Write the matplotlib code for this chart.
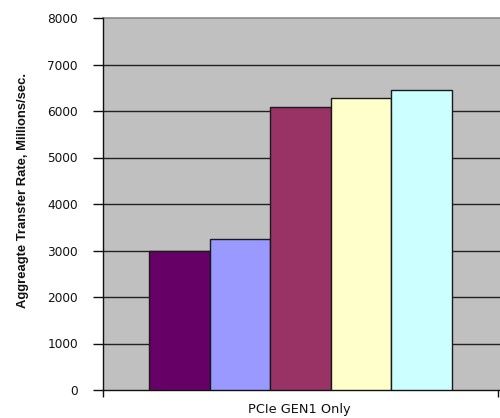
import matplotlib
matplotlib.use("Agg")
import matplotlib.pyplot as plt

# Aggregate transfer rate per configuration (Millions/sec.)
category = "PCIe GEN1 Only"
values = [3000, 3240, 6090, 6290, 6460]
colors = ["#660066", "#9999FF", "#993366", "#FFFFCC", "#CCFFFF"]
yticks = [0, 1000, 2000, 3000, 4000, 5000, 6000, 7000, 8000]
ylabel = "Aggreagte Transfer Rate, Millions/sec."

W, H = 500, 418
fig = plt.figure(figsize=(W / 100, H / 100), dpi=100)

left_px, right_px, top_px, bottom_px = 103, 500, 18, 390
ax = fig.add_axes([left_px / W, 1 - bottom_px / H,
                   (right_px - left_px) / W, (bottom_px - top_px) / H])

# category span is 103..498 px; axes run slightly past it to the image edge
span = 498 - left_px
ax.set_xlim(0, (right_px - left_px) / span)
ax.set_ylim(0, 8000)
ax.set_facecolor("#C0C0C0")

bar_w = 60.6 / span
start = 0.5 - bar_w * len(values) / 2
for i, (v, c) in enumerate(zip(values, colors)):
    ax.bar(start + bar_w * (i + 0.5), v, width=bar_w, color=c,
           edgecolor="#1a1a1a", linewidth=1.0, zorder=3)

for y in yticks[1:-1]:
    ax.axhline(y, color="#222222", linewidth=1.0, zorder=1)

for s in ["top", "right"]:
    ax.spines[s].set_visible(False)
ax.axhline(8000, color="#8a8a8a", linewidth=1.2, zorder=1, clip_on=False)
ax.spines["left"].set_color("#111111")
ax.spines["bottom"].set_color("#111111")
ax.spines["left"].set_linewidth(1.0)
ax.spines["bottom"].set_linewidth(1.0)

tick_font = ["DejaVu Sans"]
ax.set_yticks(yticks)
ax.set_yticklabels([str(t) for t in yticks], fontsize=8.7, family=tick_font,
                   color="#111111")
ax.tick_params(axis="y", direction="out", length=7, width=1, pad=11,
               color="#111111")
ax.set_xticks([0, 1])
ax.set_xticklabels(["", ""])
ax.tick_params(axis="x", direction="out", length=5, width=1, color="#111111")

fig.text(299 / W, 1 - 409 / H, category, ha="center", va="center",
         fontsize=9.3, family=tick_font, color="#111111")

fig.text(23 / W, 1 - 191 / H, ylabel, rotation=90, ha="center", va="center",
         fontsize=9.4, fontweight="bold", family=["Liberation Sans", "DejaVu Sans"],
         color="#111111")

fig.savefig("out.png", dpi=100)
